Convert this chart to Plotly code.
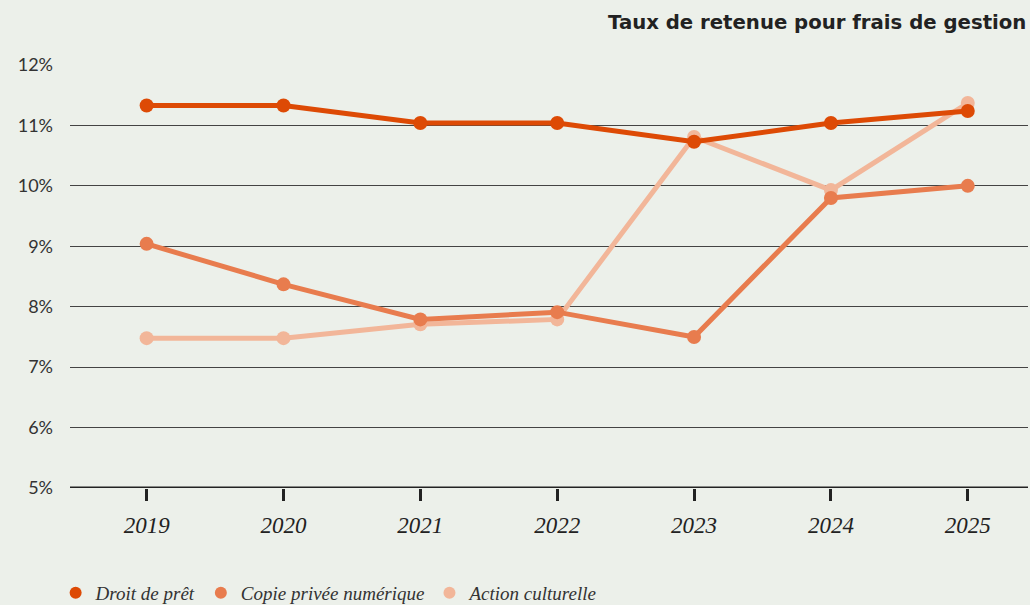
import plotly.graph_objects as go

years = ["2019", "2020", "2021", "2022", "2023", "2024", "2025"]
droit_de_pret = [11.33, 11.33, 11.04, 11.04, 10.73, 11.04, 11.24]
copie_privee = [9.04, 8.37, 7.79, 7.91, 7.50, 9.80, 10.00]
action_culturelle = [7.48, 7.48, 7.71, 7.79, 10.81, 9.93, 11.37]
y_ticks = [5, 6, 7, 8, 9, 10, 11, 12]
y_tick_labels = [f"{v}%" for v in y_ticks]

series = [
    ("Action culturelle", action_culturelle, "#F2B699"),
    ("Copie privée numérique", copie_privee, "#E87C4E"),
    ("Droit de prêt", droit_de_pret, "#DD4A05"),
]

fig = go.Figure()
xs = list(range(len(years)))
for name, vals, color in series:
    fig.add_trace(go.Scatter(
        x=xs, y=vals, name=name, mode="lines+markers",
        line=dict(color=color, width=5),
        marker=dict(color=color, size=14),
        cliponaxis=False, showlegend=False,
    ))
for name, vals, color in reversed(series):
    fig.add_trace(go.Scatter(
        x=[None], y=[None], name=name, mode="markers",
        marker=dict(color=color, size=15),
        showlegend=True,
    ))

bg = "#ECF0EA"
fig.update_layout(
    width=1030, height=605,
    paper_bgcolor=bg, plot_bgcolor=bg,
    margin=dict(l=70, r=2, t=65, b=117),
    showlegend=True,
    legend=dict(
        orientation="h",
        x=0.054, xanchor="left", xref="container",
        y=0.02, yanchor="middle", yref="container",
        font=dict(family="Liberation Serif", size=19, color="#333333", style="italic"),
        itemsizing="constant", itemwidth=30,
        bgcolor="rgba(0,0,0,0)",
    ),
)
fig.add_annotation(
    text="<b>Taux de retenue pour frais de gestion</b>",
    xref="paper", yref="paper", x=1.0, y=1.0, yshift=43,
    xanchor="right", yanchor="middle", showarrow=False,
    font=dict(family="DejaVu Sans", size=19.7, color="#222222"),
)
fig.update_xaxes(
    tickmode="array", tickvals=xs, ticktext=years,
    range=[-0.56, 6.44],
    showgrid=False, zeroline=False,
    showline=False,
    ticks="outside", ticklen=12, tickwidth=2.5, tickcolor="#222222",
    ticklabelstandoff=4,
    tickfont=dict(family="Liberation Serif", size=23, color="#222222", style="italic"),
)
fig.update_yaxes(
    tickmode="array", tickvals=y_ticks, ticktext=y_tick_labels,
    range=[5, 12],
    showgrid=True, gridcolor="#444444", gridwidth=1,
    zeroline=False, showline=False,
    ticks="", ticklabelstandoff=16,
    tickfont=dict(family="Lato", size=18, color="#333333"),
)
fig.add_shape(type="line", xref="paper", yref="y", x0=0, x1=1, y0=5, y1=5,
              line=dict(color="#222222", width=3), layer="below")
fig.write_html("out.html", config={"displayModeBar": False},
               post_script="document.body.style.margin='0';document.body.style.overflow='hidden';")
